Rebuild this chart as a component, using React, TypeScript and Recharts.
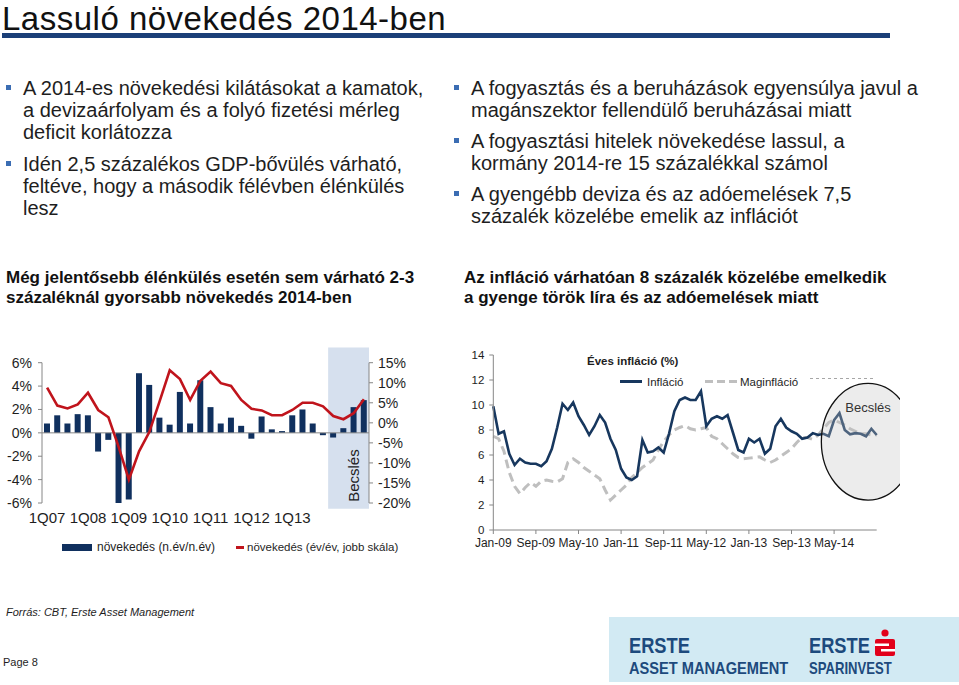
import React from "react";
import {
  Bar,
  ComposedChart,
  Line,
  LineChart,
  ReferenceArea,
  ReferenceDot,
  ReferenceLine,
  XAxis,
  YAxis,
} from "recharts";

const FONT = "'Liberation Sans', Arial, Helvetica, sans-serif";

// GDP chart (left)
const quarters = [
  "1Q07", "2Q07", "3Q07", "4Q07", "1Q08", "2Q08", "3Q08", "4Q08",
  "1Q09", "2Q09", "3Q09", "4Q09", "1Q10", "2Q10", "3Q10", "4Q10",
  "1Q11", "2Q11", "3Q11", "4Q11", "1Q12", "2Q12", "3Q12", "4Q12",
  "1Q13", "2Q13", "3Q13", "4Q13", "1Q14", "2Q14", "3Q14", "4Q14",
];
const qoqGrowth = [
  0.8, 1.5, 0.8, 1.6, 1.5, -1.6, -0.6, -6.0,
  -5.7, 5.1, 4.1, 1.3, 0.7, 3.5, 0.8, 4.5,
  2.2, 0.8, 1.3, 0.6, -0.5, 1.4, 0.3, 0.15,
  1.5, 2.0, 0.8, -0.2, -0.4, 0.4, 2.2, 2.8,
];
const yoyGrowth = [
  8.8, 4.3, 3.6, 4.6, 7.5, 3.2, 1.4, -6.0,
  -14.2, -7.1, -2.3, 5.3, 13.1, 10.9, 5.7, 10.5,
  12.8, 9.9, 9.2, 5.7, 3.5, 3.1, 1.9, 1.9,
  3.2, 5.0, 5.0, 4.1, 1.7, 0.9, 2.4, 5.9,
];
const quarterTickLabels = ["1Q07", "1Q08", "1Q09", "1Q10", "1Q11", "1Q12", "1Q13"];
const leftTicks = [-6, -4, -2, 0, 2, 4, 6];
const rightTicks = [-20, -15, -10, -5, 0, 5, 10, 15];

// Inflation chart (right)
const months = [
  "Jan-09", "Feb-09", "Mar-09", "Apr-09", "May-09", "Jun-09", "Jul-09", "Aug-09", "Sep-09", "Oct-09", "Nov-09", "Dec-09",
  "Jan-10", "Feb-10", "Mar-10", "Apr-10", "May-10", "Jun-10", "Jul-10", "Aug-10", "Sep-10", "Oct-10", "Nov-10", "Dec-10",
  "Jan-11", "Feb-11", "Mar-11", "Apr-11", "May-11", "Jun-11", "Jul-11", "Aug-11", "Sep-11", "Oct-11", "Nov-11", "Dec-11",
  "Jan-12", "Feb-12", "Mar-12", "Apr-12", "May-12", "Jun-12", "Jul-12", "Aug-12", "Sep-12", "Oct-12", "Nov-12", "Dec-12",
  "Jan-13", "Feb-13", "Mar-13", "Apr-13", "May-13", "Jun-13", "Jul-13", "Aug-13", "Sep-13", "Oct-13", "Nov-13", "Dec-13",
  "Jan-14", "Feb-14", "Mar-14", "Apr-14", "May-14", "Jun-14", "Jul-14", "Aug-14", "Sep-14", "Oct-14", "Nov-14", "Dec-14",
  "Jan-15",
];
const inflation = [
  9.9, 7.7, 7.9, 6.1, 5.2, 5.7, 5.4, 5.3, 5.3, 5.1, 5.5, 6.5,
  8.2, 10.1, 9.6, 10.2, 9.1, 8.4, 7.6, 8.3, 9.2, 8.6, 7.3, 6.4,
  4.9, 4.2, 4.0, 4.3, 7.2, 6.2, 6.3, 6.6, 6.2, 7.7, 9.5, 10.4,
  10.6, 10.4, 10.4, 11.1, 8.3, 8.9, 9.1, 8.9, 9.2, 7.8, 6.4, 6.2,
  7.3, 7.0, 7.3, 6.1, 6.5, 8.3, 8.9, 8.2, 7.9, 7.7, 7.3, 7.4,
  7.75, 7.6, 7.7, 7.5, 8.8, 9.35, 8.0, 7.65, 7.75, 7.7, 7.5, 8.1,
  7.6,
];
const coreInflation = [
  7.5, 7.3, 6.3, 4.6, 3.5, 2.9, 3.4, 3.8, 3.5, 3.9, 4.0, 3.9,
  3.85, 4.1, 5.4, 5.7, 5.4, 5.0, 4.7, 4.4, 4.1, 3.2, 2.4, 2.8,
  3.2, 3.6, 4.2, 4.6, 5.0, 5.3, 5.6, 6.4, 7.1, 7.6, 8.0, 8.2,
  8.35, 8.1, 8.0, 8.1, 8.2, 7.5, 7.3, 6.9, 6.5, 6.1, 5.8, 5.7,
  5.75, 5.8, 5.85, 5.6, 5.4, 5.6, 5.9, 6.2, 6.5, 7.0, 7.4, 7.4,
  7.25, 7.6, 8.1, 8.6, 8.8, 8.6, 8.4, 8.1, 7.9, 7.7, 7.7, 7.6,
  7.6,
];
const monthTickLabels = ["Jan-09", "Sep-09", "May-10", "Jan-11", "Sep-11", "May-12", "Jan-13", "Sep-13", "May-14"];
const inflationTicks = [0, 2, 4, 6, 8, 10, 12, 14];

const gdpData = quarters.map((q, i) => ({ q, qoq: qoqGrowth[i], yoy: yoyGrowth[i] }));
const inflationData = months.map((m, i) => ({ m, cpi: inflation[i], core: coreInflation[i] }));

const AXIS = "#868686";
const NAVY = "#10305e";
const RED = "#c0141c";

function Bullet({ top, left, lines }: { top: number; left: number; lines: string[] }) {
  return (
    <div style={{ position: "absolute", top, left, fontSize: 20, lineHeight: "22px", color: "#1e1e1e" }}>
      <span
        style={{ position: "absolute", left: -17, top: 8, width: 5, height: 5, background: "#3b6db3" }}
      />
      {lines.map((l, i) => (
        <div key={i} style={{ whiteSpace: "nowrap" }}>{l}</div>
      ))}
    </div>
  );
}

function GdpChart() {
  return (
    <ComposedChart
      width={420}
      height={190}
      data={gdpData}
      margin={{ top: 22.7, right: 6, bottom: 2, left: 0 }}
    >
      <ReferenceArea
        yAxisId="left"
        x1="1Q14"
        x2="4Q14"
        y1={-6.5}
        y2={7.3}
        ifOverflow="visible"
        fill="#d6e0ee"
        fillOpacity={1}
        stroke="none"
        label={(props: any) => {
          const vb = props.viewBox || {};
          const tx = vb.x + vb.width * 0.62 + 6;
          const ty = vb.y + vb.height - 7;
          return (
            <text
              x={tx}
              y={ty}
              transform={`rotate(-90, ${tx}, ${ty})`}
              fontSize={15}
              fill="#222"
              fontFamily={FONT}
            >
              Becslés
            </text>
          );
        }}
      />
      <XAxis
        dataKey="q"
        ticks={quarterTickLabels}
        interval={0}
        axisLine={false}
        tickLine={false}
        height={25}
        tick={{ fontSize: 15, fill: "#1e1e1e", fontFamily: FONT }}
        tickMargin={3}
      />
      <YAxis
        yAxisId="left"
        domain={[-6, 6]}
        ticks={leftTicks}
        interval={0}
        width={42}
        stroke={AXIS}
        tickSize={4}
        tickMargin={6}
        tickFormatter={(v) => `${v}%`}
        tick={{ fontSize: 14, fill: "#1e1e1e", fontFamily: FONT }}
      />
      <YAxis
        yAxisId="right"
        orientation="right"
        domain={[-20, 15]}
        ticks={rightTicks}
        interval={0}
        width={45}
        stroke={AXIS}
        tickSize={4}
        tickMargin={5}
        tickFormatter={(v) => `${v}%`}
        tick={{ fontSize: 14, fill: "#1e1e1e", fontFamily: FONT }}
      />
      <ReferenceLine yAxisId="left" y={0} stroke={AXIS} />
      <Bar yAxisId="left" dataKey="qoq" fill={NAVY} barSize={6} isAnimationActive={false} />
      <Line
        yAxisId="right"
        dataKey="yoy"
        stroke={RED}
        strokeWidth={2.6}
        dot={false}
        type="linear"
        isAnimationActive={false}
      />
    </ComposedChart>
  );
}

function InflationChart() {
  return (
    <LineChart
      width={440}
      height={215}
      data={inflationData}
      margin={{ top: 15, right: 23.3, bottom: 0, left: 0 }}
    >
      <XAxis
        dataKey="m"
        ticks={monthTickLabels}
        interval={0}
        stroke={AXIS}
        tickSize={4}
        tickMargin={4}
        height={25}
        tick={{ fontSize: 12, fill: "#1e1e1e", fontFamily: FONT }}
      />
      <YAxis
        domain={[0, 14]}
        ticks={inflationTicks}
        interval={0}
        width={33.3}
        stroke={AXIS}
        tickSize={4}
        tickMargin={5}
        tick={{ fontSize: 11.5, fill: "#1e1e1e", fontFamily: FONT }}
      />
      <Line
        dataKey="core"
        stroke="#bfbfbf"
        strokeWidth={3}
        strokeDasharray="9 5"
        dot={false}
        type="linear"
        isAnimationActive={false}
      />
      <Line
        dataKey="cpi"
        stroke="#17375e"
        strokeWidth={2.6}
        dot={false}
        type="linear"
        isAnimationActive={false}
      />
      <ReferenceDot
        x="Nov-14"
        y={7.06}
        r={1}
        ifOverflow="visible"
        zIndex={1500}
        shape={(p: any) => (
          <g>
            <ellipse
              cx={p.cx + 2}
              cy={p.cy}
              rx={46.7}
              ry={58.3}
              fill="#c4c4c4"
              fillOpacity={0.32}
              stroke="#111"
              strokeWidth={1.3}
            />
            <text x={p.cx + 2} y={p.cy - 30} textAnchor="middle" fontSize={13} fill="#333" fontFamily={FONT}>
              Becslés
            </text>
          </g>
        )}
      />
    </LineChart>
  );
}

const logoText = {
  position: "absolute" as const,
  fontWeight: "bold" as const,
  color: "#1d4a7d",
  lineHeight: 1.117,
  transformOrigin: "left top",
  whiteSpace: "nowrap" as const,
};

export default function App() {
  return (
    <div
      style={{
        position: "relative",
        width: 959,
        height: 685,
        background: "#fff",
        fontFamily: FONT,
        overflow: "hidden",
      }}
    >
      <style>{`body{margin:0}`}</style>

      <div style={{ position: "absolute", left: 2, top: 1, fontSize: 33, lineHeight: 1.117, letterSpacing: 0.5, color: "#111", whiteSpace: "nowrap" }}>
        Lassuló növekedés 2014-ben
      </div>
      <div style={{ position: "absolute", left: 2, top: 33, width: 888, height: 5, background: "#1b3f78" }} />

      <Bullet
        top={77}
        left={23}
        lines={[
          "A 2014-es növekedési kilátásokat a kamatok,",
          "a devizaárfolyam és a folyó fizetési mérleg",
          "deficit korlátozza",
        ]}
      />
      <Bullet
        top={153}
        left={23}
        lines={[
          "Idén 2,5 százalékos GDP-bővülés várható,",
          "feltéve, hogy a második félévben élénkülés",
          "lesz",
        ]}
      />
      <Bullet
        top={77}
        left={471}
        lines={["A fogyasztás és a beruházások egyensúlya javul a", "magánszektor fellendülő beruházásai miatt"]}
      />
      <Bullet
        top={130}
        left={471}
        lines={["A fogyasztási hitelek növekedése lassul, a", "kormány 2014-re 15 százalékkal számol"]}
      />
      <Bullet
        top={183}
        left={471}
        lines={["A gyengébb deviza és az adóemelések 7,5", "százalék közelébe emelik az inflációt"]}
      />

      <div style={{ position: "absolute", left: 6, top: 268, fontSize: 17, lineHeight: "20px", fontWeight: "bold", color: "#111", whiteSpace: "nowrap" }}>
        <div>Még jelentősebb élénkülés esetén sem várható 2-3</div>
        <div>százaléknál gyorsabb növekedés 2014-ben</div>
      </div>
      <div style={{ position: "absolute", left: 464, top: 268, fontSize: 17, lineHeight: "20px", fontWeight: "bold", color: "#111", whiteSpace: "nowrap" }}>
        <div>Az infláció várhatóan 8 százalék közelébe emelkedik</div>
        <div>a gyenge török líra és az adóemelések miatt</div>
      </div>

      <div style={{ position: "absolute", left: 0, top: 340 }}>
        <GdpChart />
      </div>
      <div style={{ position: "absolute", left: 62, top: 544, width: 30, height: 7, background: NAVY }} />
      <div style={{ position: "absolute", left: 97, top: 540, fontSize: 12, lineHeight: "14px", color: "#1e1e1e", whiteSpace: "nowrap" }}>
        növekedés (n.év/n.év)
      </div>
      <div style={{ position: "absolute", left: 236, top: 546, width: 8, height: 3, background: RED }} />
      <div style={{ position: "absolute", left: 247, top: 540, fontSize: 11.5, lineHeight: "14px", color: "#1e1e1e", whiteSpace: "nowrap" }}>
        növekedés (év/év, jobb skála)
      </div>

      <div style={{ position: "absolute", left: 460, top: 340 }}>
        <InflationChart />
      </div>
      <div style={{ position: "absolute", left: 587, top: 354, fontSize: 11.5, lineHeight: "14px", fontWeight: "bold", color: "#1e1e1e", whiteSpace: "nowrap" }}>
        Éves infláció (%)
      </div>
      <div style={{ position: "absolute", left: 620, top: 380, width: 22, height: 3, background: "#17375e" }} />
      <div style={{ position: "absolute", left: 647, top: 375, fontSize: 11.5, lineHeight: "14px", color: "#1e1e1e" }}>Infláció</div>
      <svg style={{ position: "absolute", left: 705, top: 379 }} width={33} height={5}>
        <line x1={0} y1={2.5} x2={33} y2={2.5} stroke="#bfbfbf" strokeWidth={3} strokeDasharray="8 4" />
      </svg>
      <div style={{ position: "absolute", left: 740, top: 375, fontSize: 11.5, lineHeight: "14px", color: "#1e1e1e" }}>Maginfláció</div>
      <svg style={{ position: "absolute", left: 810, top: 377 }} width={63} height={3}>
        <line x1={0} y1={1.5} x2={63} y2={1.5} stroke="#a6a6a6" strokeWidth={1} strokeDasharray="3 3" />
      </svg>

      <div style={{ position: "absolute", left: 6, top: 605, fontSize: 11, lineHeight: "14px", fontStyle: "italic", color: "#1e1e1e", whiteSpace: "nowrap" }}>
        Forrás: CBT, Erste Asset Management
      </div>
      <div style={{ position: "absolute", left: 3, top: 655, fontSize: 11, lineHeight: "14px", color: "#1e1e1e" }}>Page 8</div>

      <div style={{ position: "absolute", left: 609, top: 617, width: 360, height: 65, background: "#d2eaf3" }}>
        <div style={{ ...logoText, left: 20, top: 17, fontSize: 22, transform: "scaleX(0.83)" }}>
          ERSTE
        </div>
        <div style={{ ...logoText, left: 20, top: 42.2, fontSize: 17, transform: "scaleX(0.86)" }}>
          ASSET MANAGEMENT
        </div>
        <div style={{ ...logoText, left: 200, top: 17, fontSize: 22, transform: "scaleX(0.83)" }}>
          ERSTE
        </div>
        <div style={{ ...logoText, left: 200, top: 42.2, fontSize: 17, transform: "scaleX(0.77)" }}>
          SPARINVEST
        </div>
        <svg style={{ position: "absolute", left: 265, top: 10 }} width={22} height={30}>
          <circle cx={11} cy={6} r={3.6} fill="#e2001a" />
          <rect x={1} y={12} width={20} height={17} rx={2} fill="#e2001a" />
          <rect x={1} y={16.5} width={14} height={2.5} fill="#fff" />
          <rect x={7} y={22} width={14} height={2.5} fill="#fff" />
        </svg>
      </div>
    </div>
  );
}
